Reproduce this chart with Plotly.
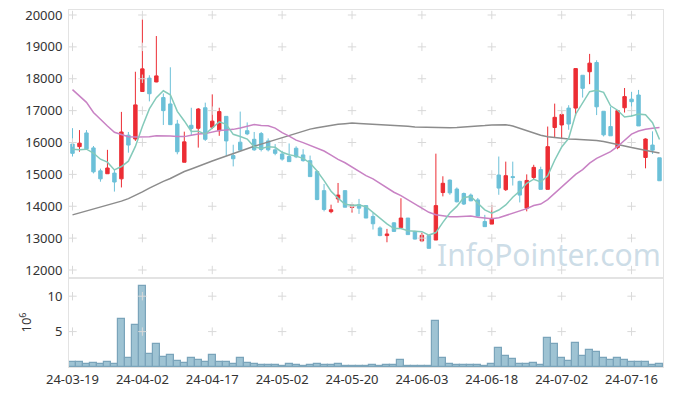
import plotly.graph_objects as go

dates = [
    "24-03-19", "24-03-20", "24-03-21", "24-03-22", "24-03-25", "24-03-26", "24-03-27", "24-03-28", "24-03-29",
    "24-04-01", "24-04-02", "24-04-03", "24-04-04", "24-04-05", "24-04-08", "24-04-09", "24-04-11", "24-04-12",
    "24-04-15", "24-04-16", "24-04-17", "24-04-18", "24-04-19", "24-04-22", "24-04-23", "24-04-24", "24-04-25",
    "24-04-26", "24-04-29", "24-04-30",
    "24-05-02", "24-05-03", "24-05-07", "24-05-08", "24-05-09", "24-05-10", "24-05-13", "24-05-14", "24-05-16",
    "24-05-17", "24-05-20", "24-05-21", "24-05-22", "24-05-23", "24-05-24", "24-05-27", "24-05-28", "24-05-29",
    "24-05-30", "24-05-31",
    "24-06-03", "24-06-04", "24-06-05", "24-06-07", "24-06-10", "24-06-11", "24-06-12", "24-06-13", "24-06-14",
    "24-06-17", "24-06-18", "24-06-19", "24-06-20", "24-06-21", "24-06-24", "24-06-25", "24-06-26", "24-06-27",
    "24-06-28",
    "24-07-01", "24-07-02", "24-07-03", "24-07-04", "24-07-05", "24-07-08", "24-07-09", "24-07-10", "24-07-11",
    "24-07-12", "24-07-15", "24-07-16", "24-07-17", "24-07-18", "24-07-19", "24-07-22",
]

open_ = [15950, 15870, 16300, 15830, 15110, 15020, 15040, 14860, 16230, 16110,
         17600, 18020, 17900, 17410, 17210, 16580, 15380, 16540, 16445, 17090,
         16480, 16370, 16820, 15590, 16010, 16370, 16100, 16280, 16050, 15770,
         15640, 15560, 15820, 15610, 15430, 15090, 14490, 13830, 14230, 14490,
         13960, 14050, 14020, 13680, 13320, 13080, 13480, 13330, 13630, 13210,
         12910, 13080, 12940, 14430, 14820, 14540, 14400, 14350, 14200, 13520,
         13440, 14980, 14520, 14930, 14780, 13940, 14900, 15150, 14530, 16470,
         16550, 17080, 17080, 18110, 18220, 18510, 16980, 16500, 15840, 17090,
         17360, 17490, 15530, 15920, 15520]
high = [16450, 16390, 16390, 15890, 15180, 15770, 15160, 16960, 16330, 18220,
        19860, 18110, 19340, 17540, 18360, 16710, 16340, 17090, 17080, 17250,
        17510, 17090, 16820, 15930, 16970, 16630, 16330, 16330, 16130, 15950,
        15740, 15970, 15880, 15790, 15590, 15120, 14700, 14050, 14730, 14490,
        14040, 14230, 14020, 13790, 13370, 13290, 13500, 14250, 13630, 13230,
        13170, 13100, 15650, 14940, 14840, 14590, 14430, 14400, 14260, 13730,
        14040, 15560, 15400, 15400, 14800, 15000, 15300, 15240, 16500, 17220,
        16990, 17170, 18320, 18110, 18780, 18580, 16980, 17120, 17000, 17710,
        17590, 17650, 16130, 16350, 15520]
low = [15560, 15710, 15770, 15030, 14770, 15020, 14460, 14590, 15680, 16050,
       17590, 17290, 17890, 16550, 16560, 15630, 15380, 16230, 15840, 16050,
       16420, 16210, 15580, 15250, 15760, 16230, 15740, 15720, 15720, 15600,
       15430, 15400, 15510, 15400, 14930, 14190, 13840, 13780, 14110, 13970,
       13800, 13760, 13630, 13270, 13060, 12870, 13210, 13290, 13110, 12960,
       12890, 12680, 12940, 14310, 14360, 14120, 14040, 14160, 13690, 13360,
       13440, 14360, 14480, 14650, 14120, 13840, 14830, 14530, 14530, 16140,
       16140, 16400, 16840, 17410, 17830, 16860, 16190, 16210, 15790, 16940,
       16820, 16520, 15190, 15640, 14800]
close = [15660, 15980, 15800, 15080, 14860, 15200, 14760, 16330, 15920, 17180,
         18310, 17530, 18090, 17000, 16560, 15710, 16020, 16440, 17050, 16100,
         16670, 16970, 16050, 15490, 15760, 16270, 15770, 15780, 15770, 15660,
         15480, 15400, 15550, 15430, 14930, 14210, 13900, 13890, 14350, 13970,
         14040, 13940, 13630, 13450, 13080, 13130, 13210, 13630, 13110, 12970,
         13090, 12680, 14020, 14720, 14420, 14140, 14070, 14170, 13690, 13360,
         13620, 14570, 14960, 14900, 14350, 14810, 15220, 14530, 15870, 16790,
         16880, 16580, 18320, 17700, 18490, 17120, 16240, 16210, 17000, 17440,
         17280, 16520, 16110, 15760, 14800]

# volume in millions of shares
volume = [0.71, 0.71, 0.42, 0.57, 0.42, 0.71, 0.42, 6.79, 1.27, 5.94,
          11.46, 1.84, 3.25, 1.42, 1.70, 0.85, 0.57, 1.27, 1.04, 0.71,
          1.70, 0.71, 0.71, 0.42, 1.27, 0.57, 0.42, 0.28, 0.28, 0.28,
          0.14, 0.42, 0.28, 0.14, 0.28, 0.42, 0.28, 0.24, 0.38, 0.10,
          0.10, 0.10, 0.10, 0.24, 0.10, 0.24, 0.24, 0.94, 0.10, 0.10,
          0.10, 0.10, 6.46, 1.23, 0.38, 0.24, 0.24, 0.24, 0.24, 0.10,
          0.38, 2.64, 1.51, 1.08, 0.38, 0.38, 0.52, 0.24, 4.06, 3.21,
          1.23, 0.80, 3.35, 1.51, 2.36, 2.08, 1.23, 0.94, 1.23, 0.94,
          0.66, 0.66, 0.66, 0.24, 0.38]

ma5 = [15790, 15770, 15790, 15670, 15476, 15384, 15140, 15246, 15414, 15878,
       16500, 17054, 17406, 17622, 17498, 16978, 16676, 16346, 16356, 16264,
       16456, 16646, 16568, 16256, 16188, 16108, 15868, 15814, 15870, 15850,
       15692, 15618, 15572, 15504, 15358, 15104, 14804, 14472, 14256, 14064,
       14030, 14038, 13986, 13806, 13628, 13446, 13300, 13300, 13232, 13210,
       13202, 13096, 13174, 13496, 13786, 13996, 14274, 14304, 14098, 13886,
       13782, 13882, 14040, 14282, 14480, 14718, 14848, 14762, 14956, 15444,
       15858, 16130, 16888, 17254, 17594, 17642, 17574, 17152, 17012, 16802,
       16834, 16890, 16870, 16622, 16094]
ma20 = [17660, 17470, 17260, 16940, 16720, 16520, 16320, 16260, 16180, 16170,
        16170, 16180, 16210, 16215, 16205, 16185, 16185, 16230, 16270, 16279,
        16330, 16379, 16392, 16412, 16457, 16511, 16561, 16534, 16526, 16450,
        16309, 16202, 16075, 15997, 15915, 15840, 15734, 15607, 15472, 15365,
        15234, 15082, 14961, 14859, 14725, 14568, 14440, 14333, 14200, 14065,
        13946, 13810, 13733, 13698, 13672, 13669, 13677, 13691, 13658, 13628,
        13607, 13638, 13705, 13777, 13841, 13925, 14025, 14070, 14208, 14399,
        14589, 14784, 14999, 15148, 15351, 15500, 15609, 15711, 15876, 16080,
        16263, 16361, 16418, 16448, 16471]
ma60 = [13730, 13790, 13850, 13910, 13970, 14030, 14090, 14160, 14240, 14340,
        14450, 14570, 14680, 14780, 14870, 14980, 15090, 15170, 15260, 15340,
        15420, 15500, 15580, 15660, 15740, 15810, 15880, 15950, 16020, 16090,
        16160, 16230, 16300, 16370, 16420, 16460, 16500, 16540, 16570, 16590,
        16610, 16600, 16590, 16570, 16550, 16540, 16530, 16520, 16510, 16490,
        16480, 16470, 16460, 16460, 16460, 16470, 16480, 16490, 16510, 16530,
        16550, 16560, 16560, 16520, 16450, 16370, 16290, 16230, 16180, 16150,
        16130, 16110, 16100, 16090, 16080, 16060, 16030, 15990, 15940, 15890,
        15840, 15790, 15750, 15710, 15670]

x_ticks = dates[::10]
price_ticks = [12000, 13000, 14000, 15000, 16000, 17000, 18000, 19000, 20000]
vol_ticks = [5, 10]

RED = "rgb(236,45,52)"
BLUE = "rgb(108,192,216)"
FONT = "Noto Sans"

fig = go.Figure()

fig.add_trace(go.Candlestick(
    x=dates, open=open_, high=high, low=low, close=close, xaxis="x", yaxis="y",
    increasing=dict(line=dict(color=RED, width=1), fillcolor=RED),
    decreasing=dict(line=dict(color=BLUE, width=1), fillcolor=BLUE),
    whiskerwidth=0, showlegend=False))

fig.add_trace(go.Bar(x=dates, y=volume, xaxis="x2", yaxis="y2",
                     marker=dict(color="rgb(158,195,211)", line=dict(color="rgb(122,164,186)", width=1.2)),
                     showlegend=False))

# grid crosses
gx = [d for d in x_ticks for _ in price_ticks]
gy = [p for _ in x_ticks for p in price_ticks]
fig.add_trace(go.Scatter(x=gx, y=gy, mode="markers", xaxis="x", yaxis="y",
                         marker=dict(symbol="cross-thin", size=6, line=dict(color="#d9d9d9", width=1)),
                         hoverinfo="skip", showlegend=False))
vx = [d for d in x_ticks for _ in vol_ticks]
vy = [v for _ in x_ticks for v in vol_ticks]
fig.add_trace(go.Scatter(x=vx, y=vy, mode="markers", xaxis="x2", yaxis="y2",
                         marker=dict(symbol="cross-thin", size=6, line=dict(color="#d9d9d9", width=1)),
                         hoverinfo="skip", showlegend=False))

fig.add_trace(go.Scatter(x=dates, y=ma60, mode="lines", line=dict(color="rgb(140,140,140)", width=1.5),
                         xaxis="x", yaxis="y", showlegend=False))
fig.add_trace(go.Scatter(x=dates, y=ma20, mode="lines", line=dict(color="rgb(200,130,196)", width=1.5),
                         xaxis="x", yaxis="y", showlegend=False))
fig.add_trace(go.Scatter(x=dates, y=ma5, mode="lines", line=dict(color="rgb(132,202,186)", width=1.5),
                         xaxis="x", yaxis="y", showlegend=False))

axis_line = dict(showline=True, linecolor="#e3e3e3", linewidth=1, mirror=True, showgrid=False, zeroline=False)

fig.update_layout(
    width=673, height=396,
    margin=dict(l=69, r=10, t=10, b=29),
    paper_bgcolor="white", plot_bgcolor="white",
    font=dict(family=FONT, size=13, color="#333"),
    bargap=0,
    xaxis=dict(type="category", categoryorder="array", categoryarray=dates,
               range=[-0.5, len(dates) - 0.5], anchor="y",
               showticklabels=False, ticks="", rangeslider=dict(visible=False), **axis_line),
    xaxis2=dict(type="category", categoryorder="array", categoryarray=dates,
                range=[-0.5, len(dates) - 0.5], anchor="y2", matches="x",
                tickmode="array", tickvals=x_ticks, ticktext=x_ticks, ticks="", tickangle=0,
                automargin=False, ticklabeloverflow="allow",
                tickfont=dict(size=13, color="#333"), **axis_line),
    yaxis=dict(domain=[0.2493, 1], range=[11749, 20157], tickvals=price_ticks, automargin=False,
               ticklabeloverflow="allow",
               tickformat="d", ticks="", ticklabelstandoff=3, tickfont=dict(size=13, color="#333"), **axis_line),
    yaxis2=dict(domain=[0, 0.2493], range=[0, 12.57], tickvals=vol_ticks, ticktext=["5", "10"],
                ticks="", ticklabelstandoff=3, tickfont=dict(size=13, color="#333"), automargin=False,
                ticklabeloverflow="allow",
                title=dict(text="10<sup>6</sup>", font=dict(size=13, color="#333"), standoff=12), **axis_line),
    annotations=[dict(text="InfoPointer.com", xref="paper", yref="paper", x=1.0, y=0.252,
                      xanchor="right", yanchor="bottom", showarrow=False,
                      font=dict(family=FONT, size=30, color="rgba(192,212,225,0.8)"))],
)

fig.write_html("out.html", config={"displayModeBar": False},
               post_script="document.body.style.margin='0';document.body.style.overflow='hidden';")
